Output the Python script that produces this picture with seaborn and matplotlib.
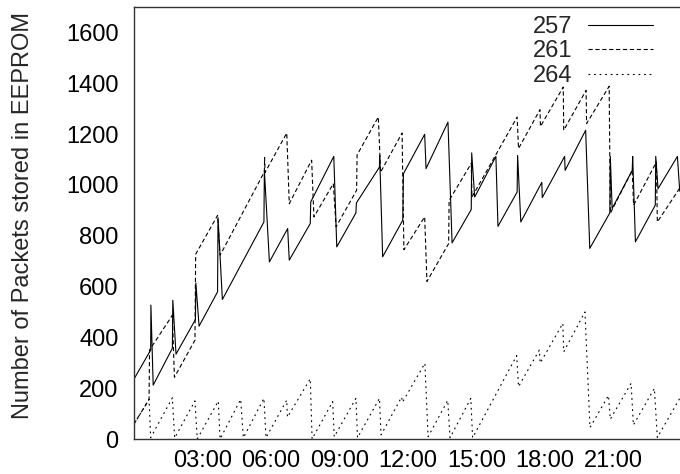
import numpy as np
import pandas as pd
import matplotlib
matplotlib.use("Agg")
import matplotlib.pyplot as plt
import seaborn as sns

# --- data (hours since 00:00, packets in EEPROM)
hours_257 = [0.00, 0.73, 0.74, 0.84, 1.68, 1.70, 1.84, 2.69, 2.71, 2.85,
             3.66, 3.68, 3.87, 5.69, 5.71, 5.93, 6.73, 6.80, 7.72, 7.74,
             8.75, 8.88, 9.72, 9.74, 10.75, 10.76, 10.89, 11.77, 11.80, 12.73,
             12.79, 13.75, 13.93, 14.77, 14.79, 14.92, 15.85, 15.94, 16.78, 16.80,
             16.94, 17.86, 17.88, 18.86, 18.88, 19.78, 19.96, 20.84, 20.86, 20.94,
             21.82, 21.84, 21.96, 22.83, 22.85, 22.95, 23.80, 23.90]
pkts_257 = [236, 350, 527, 212, 357, 546, 334, 470, 614, 444,
            579, 871, 549, 854, 1057, 697, 828, 704, 848, 933,
            1112, 756, 890, 929, 1070, 1116, 717, 861, 1044, 1199,
            1064, 1247, 772, 903, 1126, 952, 1112, 837, 972, 1116,
            854, 1010, 950, 1112, 1057, 1215, 750, 890, 1112, 907,
            1057, 1112, 776, 920, 1112, 985, 1112, 975]

hours_261 = [0.00, 0.66, 0.68, 1.68, 1.77, 2.67, 2.70, 3.66, 3.77, 5.71,
             5.72, 5.74, 6.69, 6.80, 7.78, 7.88, 8.73, 8.85, 9.75, 9.77,
             10.70, 10.80, 11.74, 11.82, 12.73, 12.83, 13.78, 13.80, 14.77, 14.80,
             16.78, 16.84, 17.78, 17.80, 18.80, 18.82, 19.80, 19.82, 20.81, 20.86,
             21.82, 21.88, 22.88, 22.92, 23.92]
pkts_261 = [59, 156, 350, 487, 243, 389, 727, 880, 723, 1051,
            1108, 1049, 1204, 926, 1097, 874, 1005, 835, 979, 1118,
            1267, 1050, 1204, 745, 874, 620, 769, 939, 1084, 952,
            1267, 1143, 1296, 1230, 1385, 1215, 1372, 1241, 1388, 888,
            1057, 920, 1090, 854, 990]

hours_264 = [0.00, 0.66, 0.73, 1.68, 1.78, 2.67, 2.77, 3.69, 3.77, 4.67,
             4.79, 5.69, 5.78, 6.69, 6.72, 7.72, 7.80, 8.70, 8.77, 9.72,
             9.79, 10.75, 10.82, 11.72, 11.76, 12.74, 12.88, 13.74, 13.84, 14.75,
             14.83, 16.76, 16.84, 17.75, 17.79, 18.78, 18.82, 19.75, 19.97, 20.78,
             20.86, 21.77, 21.87, 22.79, 22.92, 23.92]
pkts_264 = [59, 156, 5, 162, 4, 150, 0, 149, 0, 156,
            5, 160, 5, 153, 86, 237, 0, 147, 9, 160,
            5, 160, 16, 165, 145, 298, 9, 152, 5, 160,
            5, 328, 206, 350, 299, 455, 343, 500, 45, 171,
            78, 219, 55, 199, 6, 163]

node_ids = ["257", "261", "264"]
major_hours = [3, 6, 9, 12, 15, 18, 21]
major_labels = ["03:00", "06:00", "09:00", "12:00", "15:00", "18:00", "21:00"]
minor_hours = [h for h in range(1, 24) if h not in major_hours]
ytick_vals = [0, 200, 400, 600, 800, 1000, 1200, 1400, 1600]

# --- long form table for seaborn
frames = []
for nid, hh, vv in zip(node_ids, [hours_257, hours_261, hours_264],
                       [pkts_257, pkts_261, pkts_264]):
    frames.append(pd.DataFrame({"hour": hh, "packets": vv, "node": nid}))
df = pd.concat(frames, ignore_index=True)

sns.set_theme(style="white")
plt.rcParams["font.family"] = ["Liberation Sans", "DejaVu Sans"]
plt.rcParams["font.size"] = 17

fig = plt.figure(figsize=(6.8, 4.74), dpi=100)
ax = fig.add_axes([134 / 680, 35 / 474, 548 / 680, 432 / 474])

sns.lineplot(data=df, x="hour", y="packets", style="node", units="node",
             estimator=None, sort=False, color="black", linewidth=0.8,
             dashes={"257": "", "261": (3.8, 2.4), "264": (1.6, 3.4)},
             ax=ax)

ax.set_xlim(0, 24)
ax.set_ylim(0, 1700)
ax.set_xticks(major_hours)
ax.set_xticklabels(major_labels)
ax.set_xticks(minor_hours, minor=True)
ax.set_yticks(ytick_vals)
ax.tick_params(axis="both", which="both", direction="in", colors="#333333",
               labelcolor="black", labelsize=17, width=1)
ax.tick_params(axis="x", which="major", length=5, pad=8)
ax.tick_params(axis="x", which="minor", length=3)
ax.tick_params(axis="y", which="major", length=5, pad=11)
ax.set_xlabel("")
ax.set_ylabel("Number of Packets stored in EEPROM", fontsize=17)
ax.yaxis.set_label_coords(-0.183, 0.517)
for sp in ax.spines.values():
    sp.set_color("#333333")
    sp.set_linewidth(1)

handles, labels = ax.get_legend_handles_labels()
ax.legend(handles, labels, loc="upper right", bbox_to_anchor=(653 / 680, 0.966),
          bbox_transform=fig.transFigure, frameon=False, markerfirst=False,
          borderpad=0, borderaxespad=0, handlelength=2.75, handletextpad=0.68,
          labelspacing=0.1, fontsize=17)

fig.savefig("out.png", dpi=100)
